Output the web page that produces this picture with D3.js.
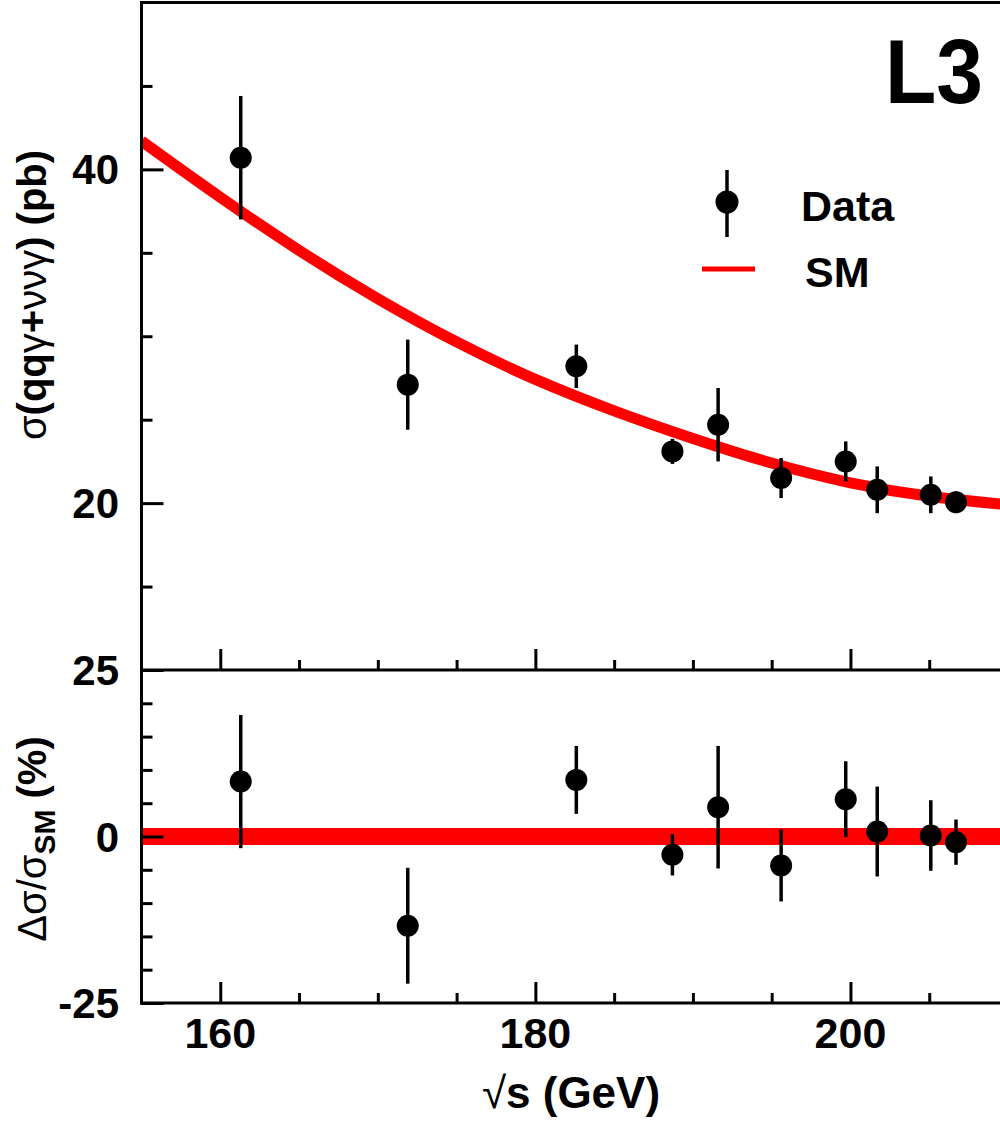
<!DOCTYPE html>
<html>
<head>
<meta charset="utf-8">
<script src="https://cdn.jsdelivr.net/npm/d3@7"></script>
<style>
  html, body { margin: 0; padding: 0; background: #fff; }
  svg { display: block; }
  text { font-family: "Liberation Sans", Arial, sans-serif; fill: #000; }
</style>
</head>
<body>
<svg id="chart" width="1000" height="1121"></svg>
<script>
// ---- data ----
const energies  = [161.3, 171.9, 182.6, 188.7, 191.6, 195.6, 199.7, 201.7, 205.1, 206.7];
const sigma     = [40.7, 27.1, 28.2, 23.1, 24.7, 21.5, 22.5, 20.8, 20.5, 20.05];
const sigmaErr  = [3.7, 2.7, 1.3, 0.75, 2.2, 1.2, 1.2, 1.4, 1.1, 0.65];
const delta     = [8.25, -13.4, 8.5, -2.75, 4.4, -4.35, 5.6, 0.75, 0.15, -0.85];
const deltaErr  = [10.0, 8.7, 5.1, 3.1, 9.2, 5.4, 5.7, 6.75, 5.3, 3.4];
const smEnergy  = [155, 160, 165, 170, 175, 180, 185, 190, 195, 200, 205, 210];
const smSigma   = [41.7, 38.3, 35.1, 32.2, 29.6, 27.35, 25.5, 23.85, 22.35, 21.15, 20.35, 19.9];
const xMajorTicks = [160, 180, 200];
const xMinorTicks = [165, 170, 175, 185, 190, 195, 205];
const topMajorTicks = [20, 40];
const topMinorTicks = [15, 25, 30, 35, 45];
const botMajorTicks = [-25, 0, 25];
const botMinorTicks = [-20, -15, -10, -5, 5, 10, 15, 20];

// ---- layout ----
const svg = d3.select("#chart");
const L = 141.5, R = 1008, T = 2.5, MID = 670, B = 1003;
const x = d3.scaleLinear().domain([155, 210]).range([L, R]);
const yTop = d3.scaleLinear().domain([10, 50]).range([MID, T]);
const yBot = d3.scaleLinear().domain([-25, 25]).range([B, MID]);

const defs = svg.append("defs");
defs.append("clipPath").attr("id", "clipTop")
  .append("rect").attr("x", L).attr("y", T).attr("width", R - L).attr("height", MID - T);
defs.append("clipPath").attr("id", "clipBot")
  .append("rect").attr("x", L).attr("y", MID).attr("width", R - L).attr("height", B - MID);

// ---- SM curve (top) ----
const smData = smEnergy.map((e, i) => [e, smSigma[i]]);
svg.append("path")
  .datum(smData)
  .attr("clip-path", "url(#clipTop)")
  .attr("fill", "none").attr("stroke", "#ff0000").attr("stroke-width", 11)
  .attr("d", d3.line().x(d => x(d[0])).y(d => yTop(d[1])).curve(d3.curveBasis));

// ---- SM band at zero (bottom) ----
svg.append("line")
  .attr("clip-path", "url(#clipBot)")
  .attr("x1", x(155)).attr("x2", x(210))
  .attr("y1", yBot(0)).attr("y2", yBot(0))
  .attr("stroke", "#ff0000").attr("stroke-width", 17);

// ---- frame / axes ----
const axisStroke = 3;
function hline(y, x1, x2) {
  svg.append("line").attr("x1", x1).attr("x2", x2).attr("y1", y).attr("y2", y)
    .attr("stroke", "#000").attr("stroke-width", axisStroke);
}
function vline(xx, y1, y2) {
  svg.append("line").attr("x1", xx).attr("x2", xx).attr("y1", y1).attr("y2", y2)
    .attr("stroke", "#000").attr("stroke-width", axisStroke);
}
hline(T, L - 1.5, R);
hline(MID, L - 1.5, R);
hline(B, L - 1.5, R);
vline(L, T - 1.5, B + 1.5);
vline(R, T, B);

// x ticks (pointing up from top-panel bottom and from bottom-panel bottom)
[MID, B].forEach(y0 => {
  svg.append("g").attr("transform", `translate(0,${y0})`)
    .call(d3.axisTop(x).tickValues(xMajorTicks).tickSize(21).tickFormat(""))
    .call(g => g.select(".domain").remove())
    .call(g => g.selectAll("line").attr("stroke-width", axisStroke));
  svg.append("g").attr("transform", `translate(0,${y0})`)
    .call(d3.axisTop(x).tickValues(xMinorTicks).tickSize(10).tickFormat(""))
    .call(g => g.select(".domain").remove())
    .call(g => g.selectAll("line").attr("stroke-width", axisStroke));
});

// x tick labels
svg.append("g").selectAll("text").data(xMajorTicks).join("text")
  .attr("x", d => x(d)).attr("y", 1048)
  .attr("text-anchor", "middle")
  .attr("font-size", 43).attr("font-weight", "bold")
  .text(d => d);

// y ticks top
svg.append("g").attr("transform", `translate(${L},0)`)
  .call(d3.axisRight(yTop).tickValues(topMajorTicks).tickSize(22).tickFormat(""))
  .call(g => g.select(".domain").remove())
  .call(g => g.selectAll("line").attr("stroke-width", axisStroke));
svg.append("g").attr("transform", `translate(${L},0)`)
  .call(d3.axisRight(yTop).tickValues(topMinorTicks).tickSize(11).tickFormat(""))
  .call(g => g.select(".domain").remove())
  .call(g => g.selectAll("line").attr("stroke-width", axisStroke));
// y ticks bottom
svg.append("g").attr("transform", `translate(${L},0)`)
  .call(d3.axisRight(yBot).tickValues(botMajorTicks).tickSize(22).tickFormat(""))
  .call(g => g.select(".domain").remove())
  .call(g => g.selectAll("line").attr("stroke-width", axisStroke));
svg.append("g").attr("transform", `translate(${L},0)`)
  .call(d3.axisRight(yBot).tickValues(botMinorTicks).tickSize(11).tickFormat(""))
  .call(g => g.select(".domain").remove())
  .call(g => g.selectAll("line").attr("stroke-width", axisStroke));

// y tick labels
svg.append("g").selectAll("text").data(topMajorTicks).join("text")
  .attr("x", 119).attr("y", d => yTop(d) + 15)
  .attr("text-anchor", "end").attr("font-size", 42).attr("font-weight", "bold")
  .text(d => d);
svg.append("g").selectAll("text").data(botMajorTicks).join("text")
  .attr("x", 119).attr("y", d => yBot(d) + 15)
  .attr("text-anchor", "end").attr("font-size", 42).attr("font-weight", "bold")
  .text(d => d);

// ---- data points ----
function drawPoints(vals, errs, ys) {
  const g = svg.append("g");
  const pts = energies.map((e, i) => ({ e, v: vals[i], err: errs[i] }));
  g.selectAll("line.err").data(pts).join("line")
    .attr("class", "err")
    .attr("x1", d => x(d.e)).attr("x2", d => x(d.e))
    .attr("y1", d => ys(d.v + d.err)).attr("y2", d => ys(d.v - d.err))
    .attr("stroke", "#000").attr("stroke-width", 3.5);
  g.selectAll("circle").data(pts).join("circle")
    .attr("cx", d => x(d.e)).attr("cy", d => ys(d.v)).attr("r", 11)
    .attr("fill", "#000");
}
drawPoints(sigma, sigmaErr, yTop);
drawPoints(delta, deltaErr, yBot);

// ---- legend ----
svg.append("line").attr("x1", 727).attr("x2", 727).attr("y1", 170).attr("y2", 237)
  .attr("stroke", "#000").attr("stroke-width", 3.5);
svg.append("circle").attr("cx", 727).attr("cy", 202).attr("r", 11.5).attr("fill", "#000");
svg.append("text").attr("x", 801).attr("y", 221).attr("font-size", 43).attr("font-weight", "bold").text("Data");
svg.append("line").attr("x1", 702).attr("x2", 755).attr("y1", 269).attr("y2", 269)
  .attr("stroke", "#ff0000").attr("stroke-width", 5);
svg.append("text").attr("x", 805).attr("y", 287).attr("font-size", 43).attr("font-weight", "bold").text("SM");

// ---- L3 label ----
svg.append("text").attr("x", 885).attr("y", 103).attr("font-size", 90).attr("font-weight", "bold")
  .attr("textLength", 98).attr("lengthAdjust", "spacingAndGlyphs").text("L3");

// ---- axis titles ----
const xt = svg.append("text").attr("x", 571).attr("y", 1108)
  .attr("text-anchor", "middle").attr("font-size", 44).attr("font-weight", "bold");
xt.append("tspan").attr("font-weight", "normal").text("\u221A");
xt.append("tspan").text("s (GeV)");

const yt = svg.append("text")
  .attr("transform", "translate(46,295) rotate(-90)")
  .attr("text-anchor", "middle").attr("font-size", 40).attr("font-weight", "bold");
yt.append("tspan").attr("font-weight", "normal").text("\u03C3");
yt.append("tspan").text("(qq");
yt.append("tspan").attr("font-weight", "normal").text("\u03B3");
yt.append("tspan").text("+");
yt.append("tspan").attr("font-weight", "normal").text("\u03BD\u03BD\u03B3");
yt.append("tspan").text(") (pb)");

const yb = svg.append("text")
  .attr("transform", "translate(46,839) rotate(-90)")
  .attr("text-anchor", "middle").attr("font-size", 40).attr("font-weight", "bold");
yb.append("tspan").attr("font-weight", "normal").text("\u0394\u03C3/\u03C3");
yb.append("tspan").attr("font-size", 30).attr("dy", 9).text("SM");
yb.append("tspan").attr("dy", -9).text(" (%)");
</script>
</body>
</html>
